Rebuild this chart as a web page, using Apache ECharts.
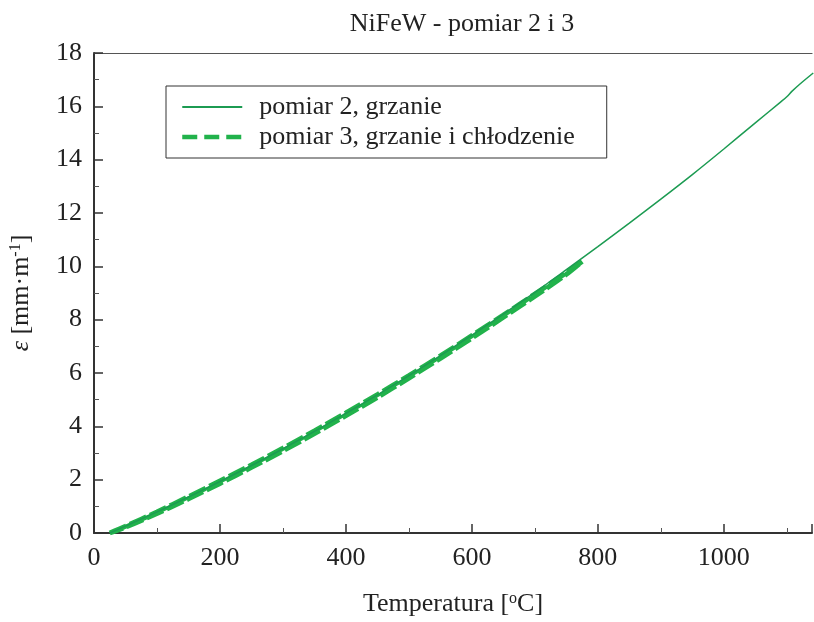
<!DOCTYPE html>
<html>
<head>
<meta charset="utf-8">
<script src="https://cdn.jsdelivr.net/npm/echarts@6/dist/echarts.min.js"></script>
<style>
  html, body { margin: 0; padding: 0; background: #fff; }
  #chart { width: 814px; height: 622px; }
</style>
</head>
<body>
<div id="chart"></div>
<script>
// pomiar 2, grzanie (temperatura / odksztalcenie)
var temp2 = [25, 50, 100, 150, 200, 250, 300, 350, 400, 450, 500, 550, 600, 650, 700, 750, 800, 850, 900, 950, 1000, 1050, 1090, 1100, 1108, 1120, 1142];
var eps2 = [0, 0.26, 0.79, 1.35, 1.93, 2.53, 3.16, 3.81, 4.49, 5.18, 5.90, 6.65, 7.42, 8.21, 9.02, 9.88, 10.74, 11.62, 12.52, 13.44, 14.40, 15.38, 16.16, 16.36, 16.56, 16.82, 17.25];

// pomiar 3, grzanie i chlodzenie (petla: grzanie do ~775, potem chlodzenie)
var temp3 = [25, 50, 100, 150, 200, 250, 300, 350, 400, 450, 500, 550, 600, 650, 700, 750, 775,
             750, 700, 650, 600, 550, 500, 450, 400, 350, 300, 250, 200, 150, 100, 50, 25];
var eps3 = [0, 0.25, 0.79, 1.36, 1.95, 2.55, 3.18, 3.83, 4.50, 5.19, 5.90, 6.64, 7.40, 8.17, 8.96, 9.76, 10.18,
            9.70, 8.88, 8.09, 7.31, 6.55, 5.81, 5.09, 4.40, 3.73, 3.08, 2.46, 1.86, 1.28, 0.73, 0.22, 0];

var serif = "'Liberation Serif', 'DejaVu Serif', serif";

function pary(xs, ys) {
  var out = [];
  for (var i = 0; i < xs.length; i++) out.push([xs[i], ys[i]]);
  return out;
}

var myChart = echarts.init(document.getElementById('chart'));

var option = {
  backgroundColor: '#fff',
  animation: false,
  title: {
    text: 'NiFeW - pomiar 2 i 3',
    left: 457,
    top: 6,
    textAlign: 'center',
    textStyle: { fontFamily: serif, fontSize: 26, fontWeight: 'normal', color: '#222' }
  },
  grid: { left: 94, top: 53, width: 718, height: 484 },
  legend: {
    orient: 'vertical',
    left: 166,
    top: 86,
    padding: [8, 32, 8, 14],
    itemGap: 4,
    itemWidth: 60,
    itemHeight: 14,
    borderColor: '#333',
    borderWidth: 1,
    backgroundColor: '#fff',
    itemStyle: { opacity: 0 },
    textStyle: { fontFamily: serif, fontSize: 26, color: '#222', padding: [0, 0, 0, 12] },
    data: [
      { name: 'pomiar 2, grzanie', lineStyle: { width: 2 } },
      { name: 'pomiar 3, grzanie i chłodzenie', lineStyle: { width: 4.5, type: [15, 7] } }
    ]
  },
  xAxis: [{
    type: 'value',
    min: 0,
    max: 1140,
    interval: 200,
    name: 'Temperatura [{sup|o}C]',
    nameLocation: 'middle',
    nameGap: 58,
    nameTextStyle: {
      fontFamily: serif, fontSize: 26, color: '#222',
      rich: { sup: { fontFamily: serif, fontSize: 16, color: '#222', verticalAlign: 'top', padding: [0, 0, 10, 0] } }
    },
    axisLine: { show: true, lineStyle: { color: '#333', width: 2 } },
    axisTick: { show: true, inside: true, length: 9, lineStyle: { color: '#333', width: 1.5 } },
    minorTick: { show: true, splitNumber: 2, length: 5, lineStyle: { color: '#555', width: 1 } },
    axisLabel: {
      fontFamily: serif, fontSize: 26, color: '#222', margin: 12,
      showMaxLabel: false,
      formatter: function (v) { return String(v); }
    },
    splitLine: { show: false }
  }, {
    type: 'value',
    position: 'top',
    min: 0,
    max: 1140,
    axisLine: { show: true, onZero: false, lineStyle: { color: '#555', width: 1.2 } },
    axisTick: { show: false },
    axisLabel: { show: false },
    splitLine: { show: false }
  }],
  yAxis: {
    type: 'value',
    min: 0,
    max: 18,
    interval: 2,
    name: '{e|ε} [mm·m{sup|-1}]',
    nameLocation: 'middle',
    nameRotate: 90,
    nameGap: 60,
    nameTextStyle: {
      fontFamily: serif, fontSize: 26, color: '#222',
      rich: {
        e: { fontFamily: serif, fontSize: 26, fontStyle: 'italic', color: '#222' },
        sup: { fontFamily: serif, fontSize: 16, color: '#222', verticalAlign: 'top', padding: [0, 0, 10, 0] }
      }
    },
    axisLine: { show: true, lineStyle: { color: '#333', width: 2 } },
    axisTick: { show: true, inside: true, length: 9, lineStyle: { color: '#333', width: 1.5 } },
    minorTick: { show: true, splitNumber: 2, length: 5, lineStyle: { color: '#555', width: 1 } },
    axisLabel: { fontFamily: serif, fontSize: 26, color: '#222', margin: 12 },
    splitLine: { show: false }
  },
  series: [{
    name: 'pomiar 3, grzanie i chłodzenie',
    type: 'line',
    data: pary(temp3, eps3),
    smooth: 0.3,
    showSymbol: false,
    symbol: 'none',
    z: 2,
    itemStyle: { color: '#21b24b' },
    lineStyle: { color: '#21b24b', width: 5, type: [18, 4] }
  }, {
    name: 'pomiar 2, grzanie',
    type: 'line',
    data: pary(temp2, eps2),
    smooth: 0.3,
    showSymbol: false,
    symbol: 'none',
    z: 3,
    itemStyle: { color: '#1c9b52' },
    lineStyle: { color: '#1c9b52', width: 1.5 }
  }]
};

myChart.setOption(option);
</script>
</body>
</html>
